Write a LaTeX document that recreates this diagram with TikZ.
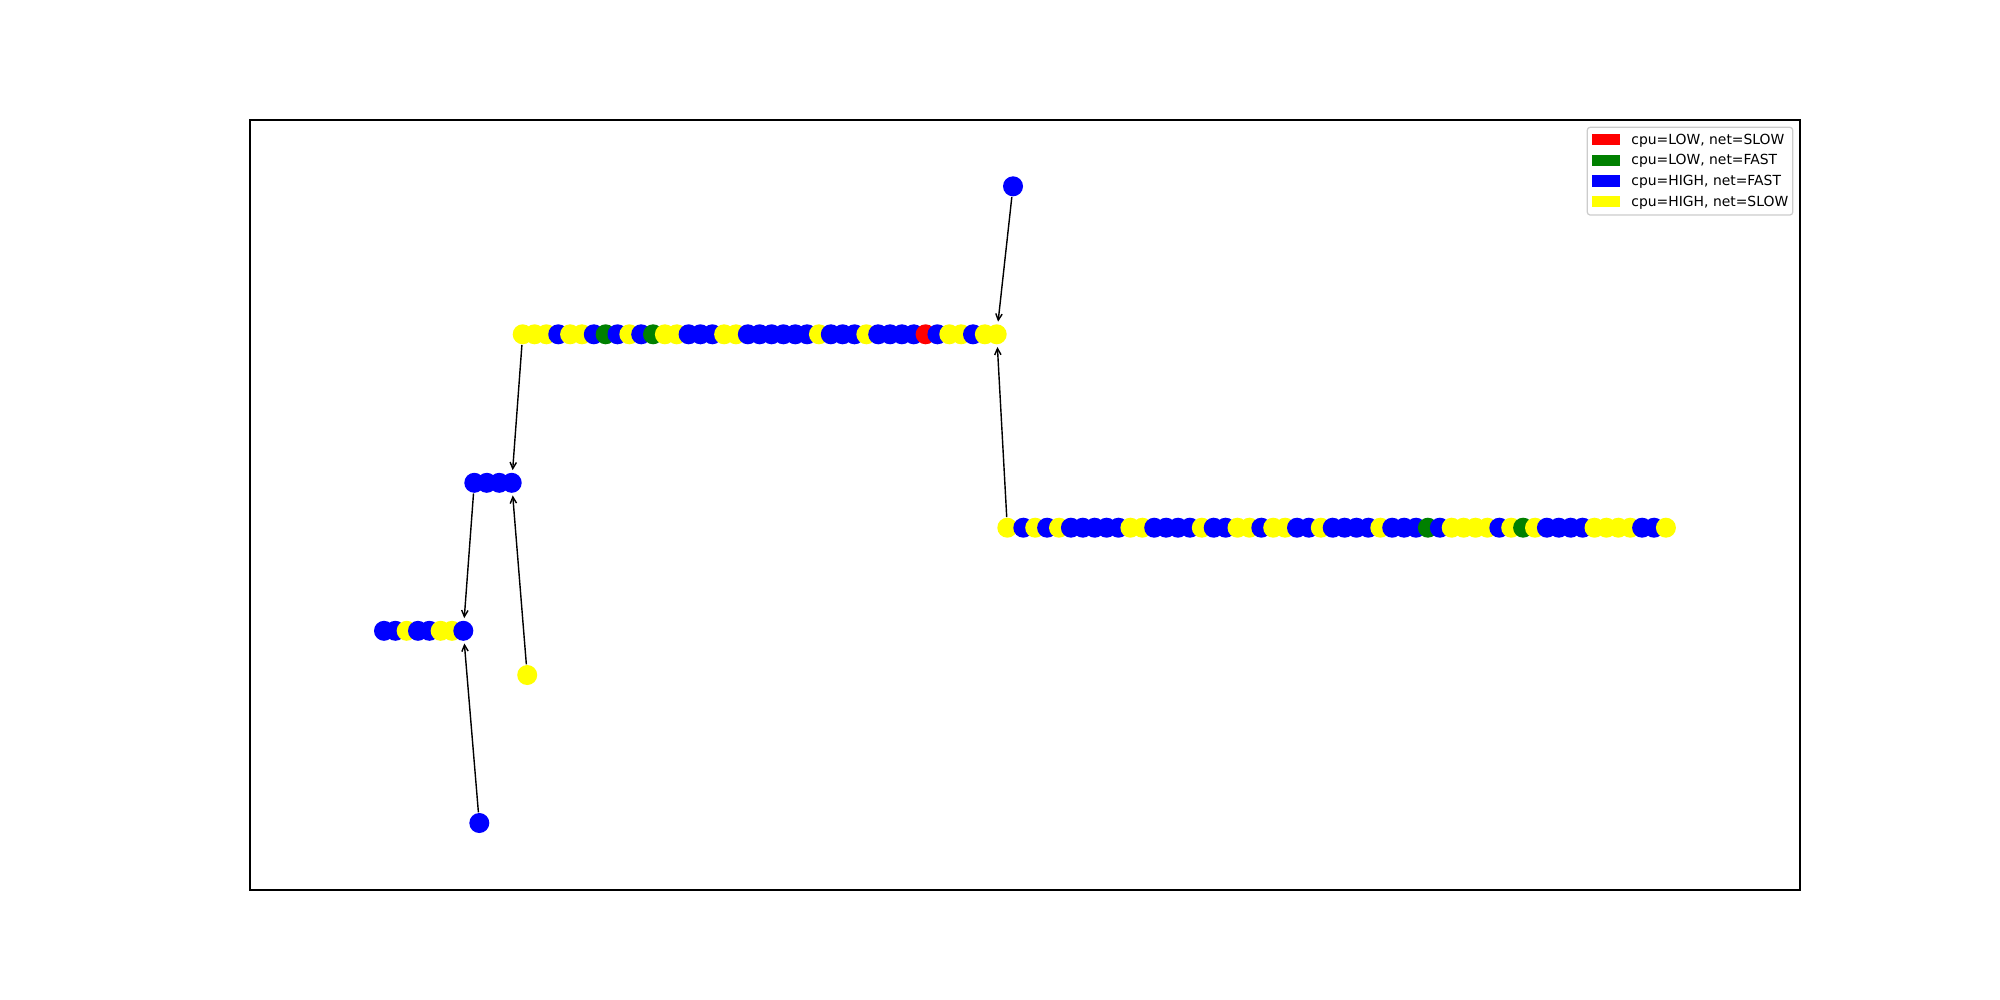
\documentclass[tikz,border=0pt]{standalone}
\usepackage{fontspec}
\setmainfont{DejaVu Sans}
\usetikzlibrary{arrows.meta}
\definecolor{cY}{RGB}{255,255,0}
\definecolor{cB}{RGB}{0,0,255}
\definecolor{cG}{RGB}{0,128,0}
\definecolor{cR}{RGB}{255,0,0}
\definecolor{legendedge}{RGB}{204,204,204}
\begin{document}
\begin{tikzpicture}[x=0.01cm,y=-0.01cm,
  dot/.style={circle,inner sep=0pt,minimum size=0.2cm,draw=none},
  edge/.style={draw=black,line width=0.4pt,-{Straight Barb[length=1.8pt,width=1.8pt]},shorten >=0.02cm},
  legtext/.style={anchor=base west,inner sep=0pt,font=\fontsize{3.955pt}{4.8pt}\selectfont},
  legpatch/.style={rectangle,inner sep=0pt,minimum width=0.285cm,minimum height=0.11cm,draw=none}]
\useasboundingbox (0,0) rectangle (2000,1000);
\draw[line width=0.32pt] (250,120) rectangle (1800,890);
% top row
\foreach \c [count=\i from 0] in {Y,Y,Y,B,Y,Y,B,G,B,Y,
  B,G,Y,Y,B,B,B,Y,Y,B,
  B,B,B,B,B,Y,B,B,B,Y,
  B,B,B,B,R,B,Y,Y,B,Y,
  Y}
  \node[dot,fill=c\c] (t\i) at ({522.7+11.85*\i},334.3) {};
% right row
\node[dot,fill=cY] (r0) at (1007.3,527.7) {};
\foreach \c [count=\i from 1] in {B,Y,B,Y,B,B,B,B,B,Y,
  Y,B,B,B,B,Y,B,B,Y,Y,
  B,Y,Y,B,B,Y,B,B,B,B,
  Y,B,B,B,G,B,Y,Y,Y,Y,
  B,Y,G,Y,B,B,B,B,Y,Y,
  Y,Y,B,B,Y}
  \node[dot,fill=c\c] (r\i) at ({1023.3+11.9*(\i-1)},527.7) {};
% middle row of four
\foreach \c [count=\i from 0] in {B,B,B,B}
  \node[dot,fill=c\c] (m\i) at ({474.3+12.47*\i},482.8) {};
% lower-left row
\foreach \c [count=\i from 0] in {B,B,Y,B,B,Y,Y,B}
  \node[dot,fill=c\c] (l\i) at ({384+11.33*\i},630.8) {};
% single dots
\node[dot,fill=cB] (s1) at (1013,186.3) {};
\node[dot,fill=cY] (s2) at (527.2,675) {};
\node[dot,fill=cB] (s3) at (479.3,823) {};
% edges
\draw[edge] (s1) -- (t40);
\draw[edge] (r0) -- (t40);
\draw[edge] (t0) -- (m3);
\draw[edge] (s2) -- (m3);
\draw[edge] (m0) -- (l7);
\draw[edge] (s3) -- (l7);
% legend
\draw[legendedge,line width=0.35pt,rounded corners=0.8pt,fill=white] (1587.3,127.3) rectangle (1792.7,215);
\node[legpatch,fill=cR] (p1) at (1606.2,139.2) {};
\node[legpatch,fill=cG] (p2) at (1606.2,160.1) {};
\node[legpatch,fill=cB] (p3) at (1606.2,181.0) {};
\node[legpatch,fill=cY] (p4) at (1606.2,201.9) {};
\node[legtext] (g1) at (1630.7,144.0) {cpu=LOW, net=SLOW};
\node[legtext] (g2) at (1630.7,164.9) {cpu=LOW, net=FAST};
\node[legtext] (g3) at (1630.7,185.8) {cpu=HIGH, net=FAST};
\node[legtext] (g4) at (1630.7,206.7) {cpu=HIGH, net=SLOW};
\end{tikzpicture}
\end{document}
